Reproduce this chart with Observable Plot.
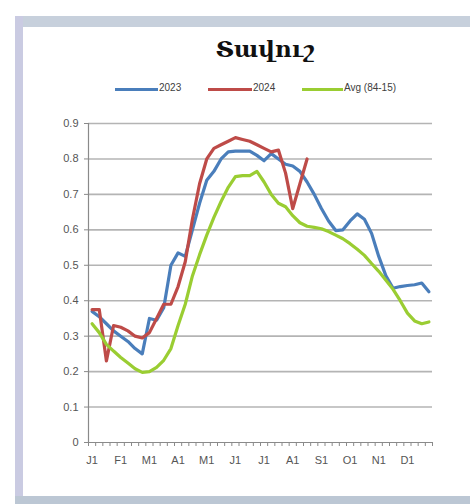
<!DOCTYPE html>
<html><head><meta charset="utf-8">
<script src="https://cdn.jsdelivr.net/npm/d3@7"></script>
<script src="https://cdn.jsdelivr.net/npm/@observablehq/plot@0.6"></script>
<style>
body{margin:0;background:#fff;width:470px;height:504px;position:relative;overflow:hidden;font-family:"Liberation Sans",Arial,sans-serif;}
.bar{position:absolute;}
#title{position:absolute;left:160px;width:210px;top:35px;text-align:center;font-family:"DejaVu Serif",serif;font-weight:bold;font-size:23px;color:#111;}
.lg{position:absolute;top:82px;font-size:10px;color:#404040;white-space:nowrap;}
.sw{position:absolute;top:88px;height:3px;}
#chart{position:absolute;left:0;top:100px;}
</style></head>
<body>
<div class="bar" style="left:15px;top:16px;width:455px;height:11px;background:#c7d0dc"></div>
<div class="bar" style="left:15px;top:16px;width:8px;height:488px;background:#cacbe2"></div>
<div class="bar" style="left:15px;top:496px;width:455px;height:8px;background:#bcc7d4"></div>
<div id="title">Տավուշ</div>
<div class="sw" style="left:115px;width:43px;background:#4a7ebb"></div><div class="lg" style="left:159px">2023</div>
<div class="sw" style="left:208px;width:44px;background:#be4b48"></div><div class="lg" style="left:253px">2024</div>
<div class="sw" style="left:302px;width:41px;background:#9acd32"></div><div class="lg" style="left:344px">Avg (84-15)</div>
<div id="chart"></div>
<script>
const monthLabels = ["J1","F1","M1","A1","M1","J1","J1","A1","S1","O1","N1","D1"];
const yTicks = [0,0.1,0.2,0.3,0.4,0.5,0.6,0.7,0.8,0.9];
const y2023 = [0.37,0.355,0.335,0.315,0.30,0.285,0.265,0.25,0.35,0.345,0.38,0.50,0.535,0.525,0.60,0.675,0.74,0.765,0.80,0.82,0.822,0.822,0.822,0.81,0.795,0.815,0.80,0.785,0.78,0.765,0.735,0.70,0.66,0.625,0.598,0.60,0.625,0.645,0.63,0.59,0.525,0.47,0.435,0.44,0.443,0.445,0.45,0.425];
const y2024 = [0.375,0.375,0.23,0.33,0.325,0.315,0.30,0.295,0.31,0.35,0.39,0.39,0.44,0.51,0.63,0.73,0.80,0.83,0.84,0.85,0.86,0.855,0.85,0.84,0.83,0.82,0.825,0.76,0.66,0.73,0.80];
const yAvg = [0.335,0.31,0.277,0.258,0.24,0.224,0.208,0.198,0.20,0.212,0.232,0.265,0.33,0.39,0.47,0.53,0.585,0.635,0.68,0.72,0.75,0.753,0.753,0.765,0.735,0.70,0.675,0.665,0.64,0.62,0.61,0.607,0.603,0.595,0.585,0.575,0.561,0.545,0.528,0.505,0.483,0.458,0.432,0.40,0.365,0.343,0.335,0.34];

const series = [
  {name:"2023", values:y2023, color:"#4a7ebb"},
  {name:"2024", values:y2024, color:"#be4b48"},
  {name:"Avg (84-15)", values:yAvg, color:"#9acd32"}
];
const rows = series.flatMap(s => s.values.map((v,i) => ({i, v, name:s.name})));
const nCat = y2023.length;
const boundaries = d3.range(nCat + 1).map(k => k - 0.5);
const labelPos = monthLabels.map((_, k) => k * 4);

const plot = Plot.plot({
  width: 470, height: 380,
  marginLeft: 88, marginRight: 38, marginTop: 23, marginBottom: 38,
  style: {fontFamily: '"Liberation Sans", Arial, sans-serif', background: "transparent"},
  x: {domain: [-0.5, nCat - 0.5], label: null},
  y: {domain: [0, 0.9], label: null},
  color: {domain: series.map(s => s.name), range: series.map(s => s.color)},
  marks: [
    Plot.ruleY(yTicks.filter(t => t > 0), {x1: -0.5, x2: nCat - 0.5, stroke: "#b4b4b4", strokeWidth: 1.6}),
    Plot.ruleY([0], {x1: -0.5, x2: nCat - 0.5, stroke: "#8a8a8a", strokeWidth: 1.2}),
    Plot.ruleX([-0.5], {y1: 0, y2: 0.9, stroke: "#8a8a8a", strokeWidth: 1.2}),
    Plot.axisY({ticks: yTicks, tickSize: 4, tickPadding: 6, stroke: "#8a8a8a", fontSize: 11, color: "#555", label: null,
      tickFormat: d => d === 0 ? "0" : d.toFixed(1)}),
    Plot.axisX({ticks: boundaries, tickSize: 4, tickFormat: () => "", stroke: "#8a8a8a", label: null}),
    Plot.axisX({ticks: labelPos, tickSize: 0, tickPadding: 14, fontSize: 11, color: "#555", label: null,
      tickFormat: d => monthLabels[d / 4]}),
    Plot.line(rows, {x: "i", y: "v", z: "name", stroke: "name", strokeWidth: 3.2, strokeLinejoin: "round"})
  ]
});
document.getElementById("chart").appendChild(plot);
</script>
</body></html>
